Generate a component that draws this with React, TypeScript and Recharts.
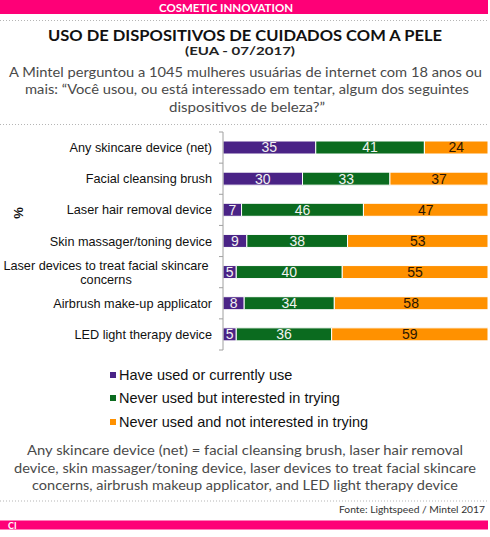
import React from 'react';
import { BarChart, Bar, XAxis, YAxis, Legend, LabelList } from 'recharts';

const categories = [
  'Any skincare device (net)',
  'Facial cleansing brush',
  'Laser hair removal device',
  'Skin massager/toning device',
  'Laser devices to treat facial skincare concerns',
  'Airbrush make-up applicator',
  'LED light therapy device',
];
const haveUsed = [35, 30, 7, 9, 5, 8, 5];
const interested = [41, 33, 46, 38, 40, 34, 36];
const notInterested = [24, 37, 47, 53, 55, 58, 59];

const seriesNames = [
  'Have used or currently use',
  'Never used but interested in trying',
  'Never used and not interested in trying',
];

const subtitleLines = [
  'A Mintel perguntou a 1045 mulheres usuárias de internet com 18 anos ou',
  'mais:  “Você usou, ou está interessado em tentar, algum dos seguintes',
  'dispositivos de beleza?”',
];
const noteLines = [
  'Any skincare device (net) = facial cleansing brush, laser hair removal',
  'device, skin massager/toning device, laser devices to treat facial skincare',
  'concerns, airbrush makeup applicator, and LED light therapy device',
];

const data = categories.map((c, i) => ({
  name: c,
  used: haveUsed[i],
  interested: interested[i],
  notInterested: notInterested[i],
}));

const PINK = '#fe0077';
const PURPLE = '#4a2386';
const GREEN = '#0b6b1f';
const ORANGE = '#ff9100';
const ARIAL = '"Liberation Sans", Arial, sans-serif';
const GEO = 'Lato, "Noto Sans", sans-serif';

const CHART_W = 490;
const CHART_H = 537;
const MARGIN = { top: 132, right: 2, bottom: 187, left: 0 };
const AXIS_W = 223;
const PLOT_H = CHART_H - MARGIN.top - MARGIN.bottom;
const BAND = PLOT_H / categories.length;

function CategoryTick(props: any) {
  const { x, y, payload, index } = props;
  const label: string = payload.value;
  const tickX = AXIS_W;
  const marks = (
    <g stroke="#a0a0a0" strokeWidth={1}>
      <line x1={tickX - 4} x2={tickX} y1={y - BAND / 2} y2={y - BAND / 2} />
      {index === categories.length - 1 && (
        <line x1={tickX - 4} x2={tickX} y1={y + BAND / 2} y2={y + BAND / 2} />
      )}
    </g>
  );
  if (label.length > 32) {
    const cut = label.lastIndexOf(' ');
    return (
      <g>
        {marks}
        <text x={x - 106} y={y} textAnchor="middle" fontFamily={ARIAL} fontSize={12.7} fill="#111">
          <tspan x={x - 106} dy={-2}>{label.slice(0, cut)}</tspan>
          <tspan x={x - 106} dy={14}>{label.slice(cut + 1)}</tspan>
        </text>
      </g>
    );
  }
  return (
    <g>
      {marks}
      <text x={x} y={y} dy={4.5} textAnchor="end" fontFamily={ARIAL} fontSize={12.7} fill="#111">
        {label}
      </text>
    </g>
  );
}

function LegendContent(props: any) {
  const items = [...(props.payload || [])].sort(
    (a: any, b: any) => seriesNames.indexOf(a.value) - seriesNames.indexOf(b.value),
  );
  return (
    <div style={{ fontFamily: ARIAL, fontSize: 14.5, color: '#111' }}>
      {items.map((p: any) => (
        <div key={p.value} style={{ display: 'flex', alignItems: 'center', height: 23.5 }}>
          <span style={{ width: 6, height: 6, background: p.color, marginRight: 3, display: 'inline-block' }} />
          <span>{p.value}</span>
        </div>
      ))}
    </div>
  );
}

function Dotted({ y }: { y: number }) {
  return <line x1={0} x2={488} y1={y} y2={y} stroke="#b5b5b5" strokeWidth={1} strokeDasharray="1 2" />;
}

export default function App() {
  return (
    <div style={{ position: 'absolute', left: 0, top: 0, width: 490, height: 537, background: '#fff', overflow: 'hidden' }}>
      <svg width={490} height={537} style={{ position: 'absolute', left: 0, top: 0, whiteSpace: 'pre' }}>
        <rect x={0} y={0} width={488} height={14} fill={PINK} />
        <text x={159} y={12} textLength={134} lengthAdjust="spacingAndGlyphs" fontFamily={GEO} fontWeight={700} fontSize={11} fill="#fff">
          COSMETIC INNOVATION
        </text>
        <Dotted y={20.5} />
        <text x={48} y={40.7} textLength={394} lengthAdjust="spacingAndGlyphs" fontFamily={GEO} fontWeight={700} fontSize={15} fill="#111">
          USO DE DISPOSITIVOS DE CUIDADOS COM A PELE
        </text>
        <text x={185} y={55} textLength={110} lengthAdjust="spacingAndGlyphs" fontFamily={GEO} fontWeight={700} fontSize={11.5} fill="#222">
          (EUA - 07/2017)
        </text>
        <text x={9} y={77.3} textLength={473} lengthAdjust="spacingAndGlyphs" fontFamily={GEO} fontSize={13.5} fill="#4a4a4a">
          {subtitleLines[0]}
        </text>
        <text x={25} y={94.3} textLength={444} lengthAdjust="spacingAndGlyphs" fontFamily={GEO} fontSize={13.5} fill="#4a4a4a">
          {subtitleLines[1]}
        </text>
        <text x={169} y={111.7} textLength={156} lengthAdjust="spacingAndGlyphs" fontFamily={GEO} fontSize={13.5} fill="#4a4a4a">
          {subtitleLines[2]}
        </text>
        <Dotted y={124.5} />
        <text x={0} y={0} transform="translate(23 213) rotate(-90)" textAnchor="middle" fontFamily={ARIAL} fontWeight={700} fontSize={13} fill="#111">
          %
        </text>
        <text x={27} y={455} textLength={436} lengthAdjust="spacingAndGlyphs" fontFamily={GEO} fontSize={13.5} fill="#4a4a4a">
          {noteLines[0]}
        </text>
        <text x={14} y={472.7} textLength={462} lengthAdjust="spacingAndGlyphs" fontFamily={GEO} fontSize={13.5} fill="#4a4a4a">
          {noteLines[1]}
        </text>
        <text x={32} y={490} textLength={426} lengthAdjust="spacingAndGlyphs" fontFamily={GEO} fontSize={13.5} fill="#4a4a4a">
          {noteLines[2]}
        </text>
        <Dotted y={501} />
        <text x={339} y={513} textLength={146} lengthAdjust="spacingAndGlyphs" fontFamily={GEO} fontSize={10} fill="#333">
          Fonte: Lightspeed / Mintel 2017
        </text>
        <rect x={0} y={520.5} width={488} height={9} fill={PINK} />
        <text x={8} y={528.5} fontFamily={GEO} fontWeight={700} fontSize={9} fill="#fff">
          CI
        </text>
      </svg>
      <div style={{ position: 'absolute', left: 0, top: 0 }}>
        <BarChart width={CHART_W} height={CHART_H} data={data} layout="vertical" margin={MARGIN}>
          <XAxis type="number" domain={[0, 100]} hide />
          <YAxis
            type="category"
            dataKey="name"
            width={AXIS_W}
            axisLine={{ stroke: '#a0a0a0' }}
            tickLine={false}
            tickSize={0}
            tickMargin={11}
            interval={0}
            tick={<CategoryTick />}
          />
          <Legend
            layout="vertical"
            align="center"
            verticalAlign="middle"
            wrapperStyle={{ left: 110, top: 363, width: 300 }}
            content={<LegendContent />}
          />
          <Bar dataKey="used" name={seriesNames[0]} stackId="a" fill={PURPLE} stroke="#fff" strokeWidth={1} barSize={13} isAnimationActive={false}>
            <LabelList dataKey="used" position="center" fill="#f2f2f2" fontFamily={ARIAL} fontSize={14} />
          </Bar>
          <Bar dataKey="interested" name={seriesNames[1]} stackId="a" fill={GREEN} stroke="#fff" strokeWidth={1} barSize={13} isAnimationActive={false}>
            <LabelList dataKey="interested" position="center" fill="#f2f2f2" fontFamily={ARIAL} fontSize={14} />
          </Bar>
          <Bar dataKey="notInterested" name={seriesNames[2]} stackId="a" fill={ORANGE} stroke="#fff" strokeWidth={1} barSize={13} isAnimationActive={false}>
            <LabelList dataKey="notInterested" position="center" fill="#2b1600" fontFamily={ARIAL} fontSize={14} />
          </Bar>
        </BarChart>
      </div>
    </div>
  );
}
